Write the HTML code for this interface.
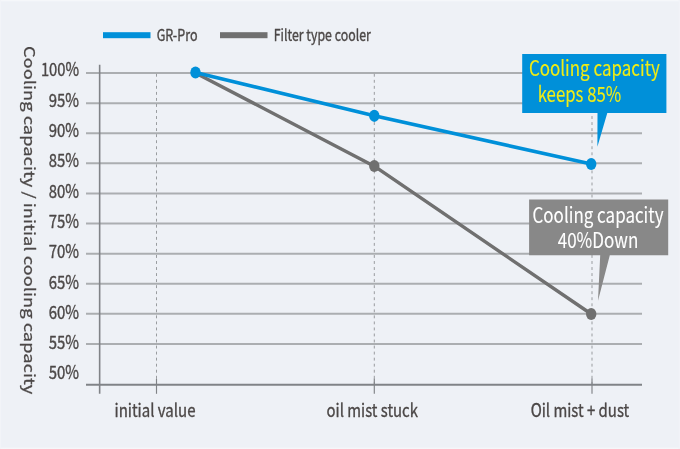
<!DOCTYPE html>
<html lang="en"><head><meta charset="utf-8"><title>Cooling capacity chart</title>
<style>
html,body{margin:0;padding:0;background:#eef1f6;overflow:hidden}
svg{display:block;font-family:'Noto Sans CJK JP','Liberation Sans',sans-serif}
text{paint-order:stroke;stroke-width:0.35px;stroke-linejoin:round}
.t{stroke:#4b4746}.y{stroke:#f0ec14;stroke-width:0.1px}.w{stroke:#fff;stroke-width:0.1px}
</style></head><body>
<svg width="680" height="449" viewBox="0 0 680 449">
<defs><filter id="soft" x="0" y="0" width="680" height="449" filterUnits="userSpaceOnUse"><feGaussianBlur stdDeviation="0.55"/></filter><linearGradient id="bg" x1="0" y1="0" x2="0" y2="1"><stop offset="0" stop-color="#eef1f6"/><stop offset="1" stop-color="#f7f8fa"/></linearGradient></defs>
<g filter="url(#soft)">
<rect x="0" y="0" width="680" height="449" fill="#eef1f6"/>
<line x1="86" y1="73.10" x2="642" y2="73.10" stroke="#abaeb1" stroke-width="2"/>
<line x1="86" y1="103.19" x2="642" y2="103.19" stroke="#abaeb1" stroke-width="2"/>
<line x1="86" y1="133.28" x2="642" y2="133.28" stroke="#abaeb1" stroke-width="2"/>
<line x1="86" y1="163.37" x2="642" y2="163.37" stroke="#abaeb1" stroke-width="2"/>
<line x1="86" y1="193.46" x2="642" y2="193.46" stroke="#abaeb1" stroke-width="2"/>
<line x1="86" y1="223.55" x2="642" y2="223.55" stroke="#abaeb1" stroke-width="2"/>
<line x1="86" y1="253.64" x2="642" y2="253.64" stroke="#abaeb1" stroke-width="2"/>
<line x1="86" y1="283.73" x2="642" y2="283.73" stroke="#abaeb1" stroke-width="2"/>
<line x1="86" y1="313.82" x2="642" y2="313.82" stroke="#abaeb1" stroke-width="2"/>
<line x1="86" y1="343.91" x2="642" y2="343.91" stroke="#abaeb1" stroke-width="2"/>
<line x1="156.5" y1="73.8" x2="156.5" y2="384" stroke="#999c9f" stroke-width="1" stroke-dasharray="2.9 3.14"/>
<line x1="156.5" y1="378.6" x2="156.5" y2="393.8" stroke="#808387" stroke-width="1.15"/>
<line x1="374.3" y1="73.8" x2="374.3" y2="384" stroke="#999c9f" stroke-width="1" stroke-dasharray="2.9 3.14"/>
<line x1="374.3" y1="378.6" x2="374.3" y2="393.8" stroke="#808387" stroke-width="1.15"/>
<line x1="592.0" y1="73.8" x2="592.0" y2="384" stroke="#999c9f" stroke-width="1" stroke-dasharray="2.9 3.14"/>
<line x1="592.0" y1="378.6" x2="592.0" y2="393.8" stroke="#808387" stroke-width="1.15"/>
<line x1="86" y1="384.75" x2="642" y2="384.75" stroke="#808387" stroke-width="2.2"/>
<line x1="99.65" y1="64.8" x2="99.65" y2="393.8" stroke="#808387" stroke-width="1.6"/>
<text x="79.1" y="76.40" font-size="18" text-anchor="end" textLength="38.2" lengthAdjust="spacingAndGlyphs" fill="#4b4746" class="t">100%</text>
<text x="79.1" y="106.70" font-size="18" text-anchor="end" textLength="30.3" lengthAdjust="spacingAndGlyphs" fill="#4b4746" class="t">95%</text>
<text x="79.1" y="137.00" font-size="18" text-anchor="end" textLength="30.3" lengthAdjust="spacingAndGlyphs" fill="#4b4746" class="t">90%</text>
<text x="79.1" y="167.30" font-size="18" text-anchor="end" textLength="30.3" lengthAdjust="spacingAndGlyphs" fill="#4b4746" class="t">85%</text>
<text x="79.1" y="197.60" font-size="18" text-anchor="end" textLength="30.3" lengthAdjust="spacingAndGlyphs" fill="#4b4746" class="t">80%</text>
<text x="79.1" y="227.90" font-size="18" text-anchor="end" textLength="30.3" lengthAdjust="spacingAndGlyphs" fill="#4b4746" class="t">75%</text>
<text x="79.1" y="258.20" font-size="18" text-anchor="end" textLength="30.3" lengthAdjust="spacingAndGlyphs" fill="#4b4746" class="t">70%</text>
<text x="79.1" y="288.50" font-size="18" text-anchor="end" textLength="30.3" lengthAdjust="spacingAndGlyphs" fill="#4b4746" class="t">65%</text>
<text x="79.1" y="318.80" font-size="18" text-anchor="end" textLength="30.3" lengthAdjust="spacingAndGlyphs" fill="#4b4746" class="t">60%</text>
<text x="79.1" y="349.10" font-size="18" text-anchor="end" textLength="30.3" lengthAdjust="spacingAndGlyphs" fill="#4b4746" class="t">55%</text>
<text x="79.1" y="379.40" font-size="18" text-anchor="end" textLength="30.3" lengthAdjust="spacingAndGlyphs" fill="#4b4746" class="t">50%</text>
<rect x="103" y="32.2" width="47.5" height="6" fill="#0090d9"/>
<rect x="220" y="32.2" width="47.5" height="6" fill="#6f6f6f"/>
<text x="156.7" y="41.3" font-size="15.5" textLength="40.8" lengthAdjust="spacingAndGlyphs" fill="#4b4746" class="t">GR-Pro</text>
<text x="273.8" y="41.3" font-size="15.5" textLength="97" lengthAdjust="spacingAndGlyphs" fill="#4b4746" class="t">Filter type cooler</text>
<polyline points="195.5,72.9 374.3,166.2 591.2,314" fill="none" stroke="#6f6f6f" stroke-width="3.4" stroke-linejoin="round"/>
<polyline points="195.5,72.5 374.3,115.8 591.2,164" fill="none" stroke="#0090d9" stroke-width="3.6" stroke-linejoin="round"/>
<ellipse cx="374.3" cy="166" rx="5.2" ry="6.1" fill="#6f6f6f"/>
<ellipse cx="591.2" cy="314" rx="5.2" ry="6.1" fill="#6f6f6f"/>
<ellipse cx="195.5" cy="72.5" rx="5.2" ry="6.1" fill="#0090d9"/>
<ellipse cx="374.3" cy="115.8" rx="5.2" ry="6.1" fill="#0090d9"/>
<ellipse cx="591.2" cy="164" rx="5.2" ry="6.1" fill="#0090d9"/>
<path d="M522.2 54 H666.4 V113.1 H607.3 L597.4 146.8 L597.5 113.1 H522.2 Z" fill="#0090d9"/>
<text x="528.9" y="76.3" font-size="21" textLength="131" lengthAdjust="spacingAndGlyphs" fill="#f0ec14" class="y">Cooling capacity</text>
<text x="537.7" y="102.4" font-size="21" textLength="83.6" lengthAdjust="spacingAndGlyphs" fill="#f0ec14" class="y">keeps 85%</text>
<path d="M529.1 199.5 H668.2 V255.2 H609.8 L598 300.8 L600.2 255.2 H529.1 Z" fill="#888888"/>
<text x="532.5" y="223.1" font-size="21" textLength="131" lengthAdjust="spacingAndGlyphs" fill="#fff" class="w">Cooling capacity</text>
<text x="557.7" y="247.6" font-size="21" textLength="80.6" lengthAdjust="spacingAndGlyphs" fill="#fff" class="w">40%Down</text>
<text x="114.5" y="416.6" font-size="18" textLength="81" lengthAdjust="spacingAndGlyphs" fill="#4b4746" class="t">initial value</text>
<text x="326.6" y="416.6" font-size="18" textLength="91.3" lengthAdjust="spacingAndGlyphs" fill="#4b4746" class="t">oil mist stuck</text>
<text x="530.7" y="416.6" font-size="18" textLength="98.5" lengthAdjust="spacingAndGlyphs" fill="#4b4746" class="t">Oil mist + dust</text>
<text transform="translate(23.5 45.9) scale(0.815 1) rotate(90)" x="0" y="0" font-size="18.3" textLength="348.5" lengthAdjust="spacingAndGlyphs" fill="#4b4746" class="t">Cooling capacity / initial cooling capacity</text>
</g>
<rect x="0" y="0" width="680" height="1.3" fill="#f5f7fa"/><rect x="0" y="446.8" width="680" height="2.2" fill="url(#bg)"/><rect x="0" y="0" width="1.1" height="449" fill="#f2f4f8"/><rect x="678.6" y="0" width="1.4" height="449" fill="#f1f3f8"/>
</svg>
</body></html>
